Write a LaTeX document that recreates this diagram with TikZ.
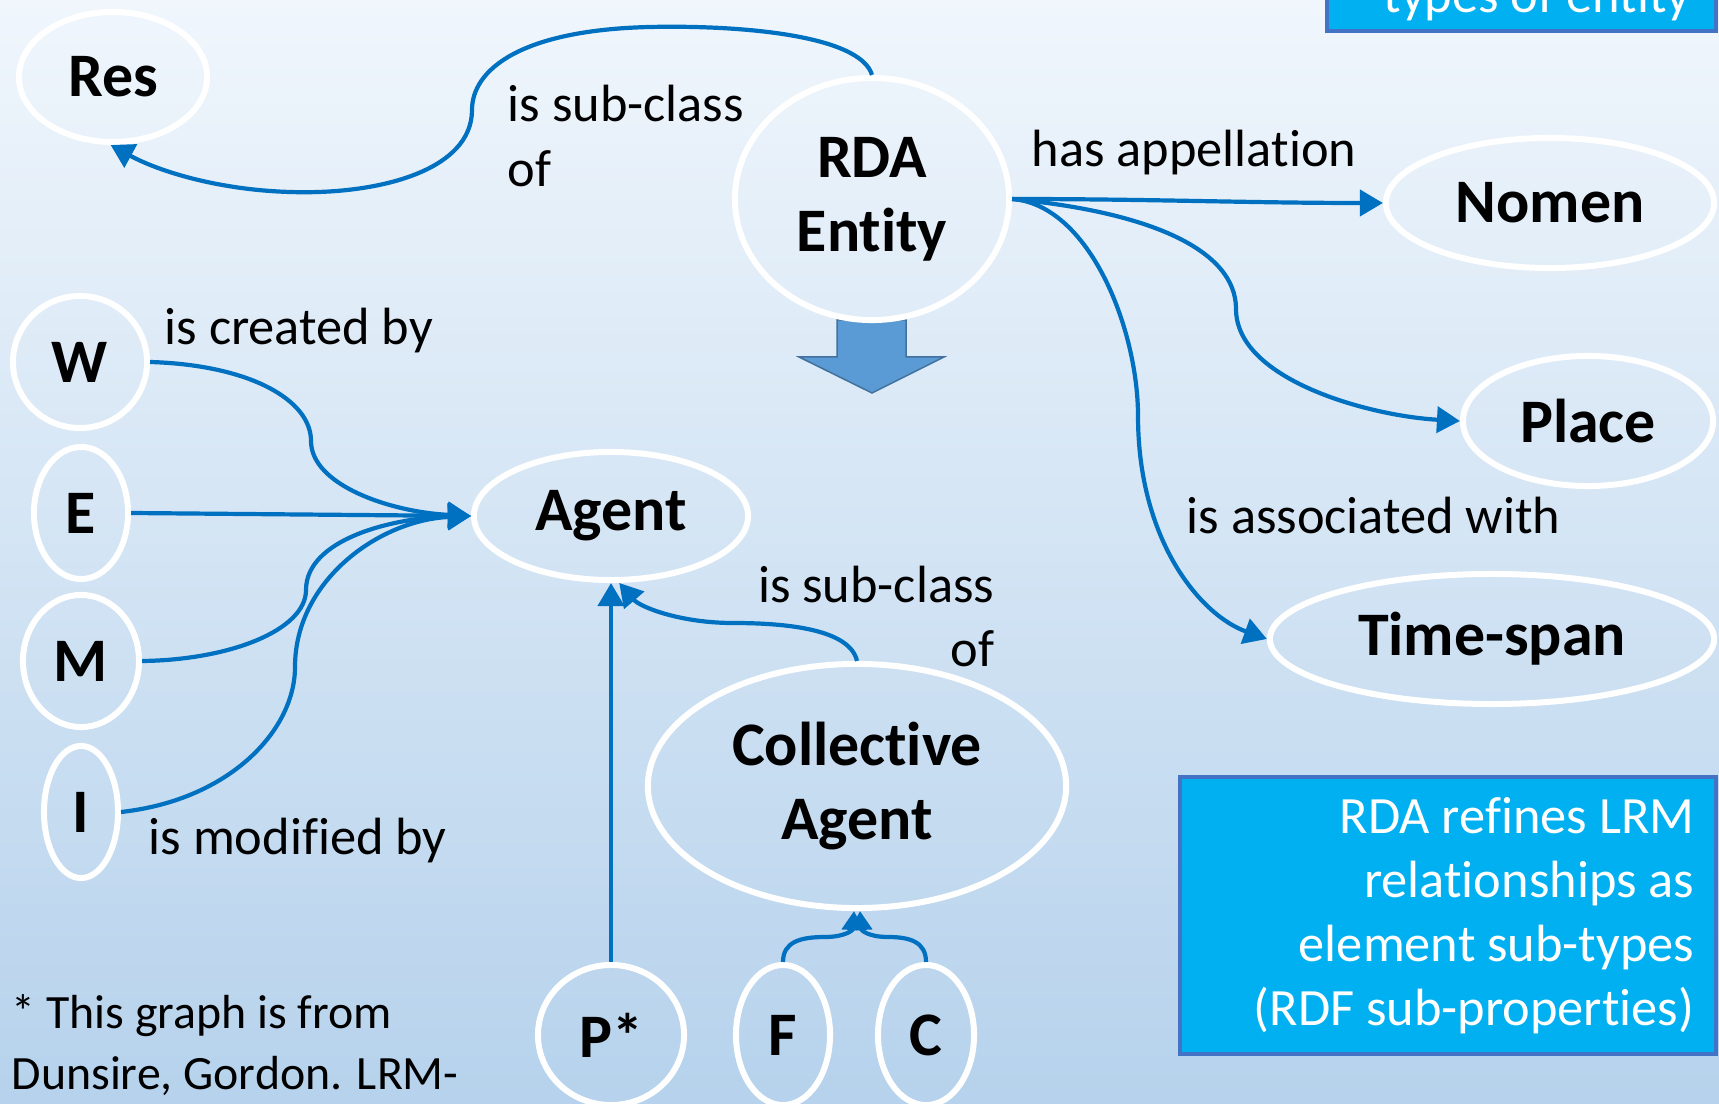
\documentclass[tikz,border=0pt]{standalone}
\usepackage{fontspec}
\setmainfont{Carlito}[Ligatures=NoCommon]
\usetikzlibrary{shapes.geometric,arrows.meta}
\definecolor{linkblue}{HTML}{0070C0}
\definecolor{boxcyan}{HTML}{00B0F0}
\definecolor{boxedge}{HTML}{4472C4}
\definecolor{bigarrow}{HTML}{5B9BD5}
\definecolor{bigarrowedge}{HTML}{41719C}
\definecolor{bgtop}{RGB}{240,246,252}
\definecolor{bgbottom}{RGB}{182,210,236}

\begin{document}
\begin{tikzpicture}
[
    x=0.01cm, y=-0.01cm,
    entity/.style={ellipse,draw=white,line width=0.06cm,inner sep=0pt,align=center,font=\fontsize{17.6}{21}\selectfont\bfseries},
    rel/.style={inner sep=0pt,font=\fontsize{14.9}{18.2}\selectfont},
    link/.style={draw=linkblue,line width=0.042cm,-{Triangle[length=0.23cm,width=0.26cm]}},
    smalllink/.style={link,-{Triangle[length=0.19cm,width=0.22cm]}},
    notebox/.style={fill=boxcyan,draw=boxedge,line width=0.04cm},
]
\useasboundingbox (0,0) rectangle (1719,1104);
\clip (0,0) rectangle (1719,1104);
\fill[top color=bgtop,bottom color=bgbottom] (0,0) rectangle (1719,1104);

\draw[fill=bigarrow,draw=bigarrowedge,line width=0.015cm] (837,320) -- (906,320) -- (906,357) -- (944,357) -- (872,393) -- (799,357) -- (837,357) -- cycle;

\node (res) at (113,77) [entity,minimum width=1.88cm,minimum height=1.3cm] {Res};
\node (rda) at (872,199) [entity,minimum width=2.74cm,minimum height=2.42cm] {RDA\\Entity};
\node (nomen) at (1550,203) [entity,minimum width=3.28cm,minimum height=1.3cm] {Nomen};
\node (place) at (1588,421) [entity,minimum width=2.5cm,minimum height=1.3cm] {Place};
\node (timespan) at (1492,639) [entity,minimum width=4.44cm,minimum height=1.3cm] {Time-span};
\node (agent) at (611,516) [entity,minimum width=2.74cm,minimum height=1.28cm] {Agent};
\node (w) at (80,362) [entity,minimum width=1.34cm,minimum height=1.32cm] {W};
\node (e) at (81,513) [entity,minimum width=0.94cm,minimum height=1.32cm] {E};
\node (m) at (81,661) [entity,minimum width=1.16cm,minimum height=1.32cm] {M};
\node (i) at (81,812) [entity,minimum width=0.74cm,minimum height=1.32cm] {I};
\node (collective) at (857,786) [entity,minimum width=4.18cm,minimum height=2.44cm] {Collective\\Agent};
\node (pstar) at (611,1035) [entity,minimum width=1.46cm,minimum height=1.4cm] {P*};
\node (f) at (783,1035) [entity,minimum width=0.94cm,minimum height=1.4cm] {F};
\node (c) at (926,1035) [entity,minimum width=0.96cm,minimum height=1.4cm] {C};

\node (subres) at (507,136) [rel,anchor=west,align=left] {is sub-class\\of};
\node (hasapp) at (1031,153) [rel,anchor=west] {has appellation};
\node (assoc) at (1186,516) [rel,anchor=west] {is associated with};
\node (created) at (164,331) [rel,anchor=west] {is created by};
\node (modified) at (148,841) [rel,anchor=west] {is modified by};
\node (subagent) at (995,616) [rel,anchor=east,align=right] {is sub-class\\of};
\node (source) at (11,1045) [rel,anchor=west,align=left,font=\fontsize{13.6}{17.2}\selectfont] {* This graph is from\\Dunsire, Gordon. LRM-};

\draw[notebox] (1180,777) rectangle (1716,1054);
\node (refines) at (1695,916) [rel,anchor=east,align=right,text=white] {RDA refines LRM\\relationships as\\element sub-types\\(RDF sub-properties)};
\draw[notebox] (1327,-30) rectangle (1716,31);
\node (types) at (1691,13) [rel,anchor=base east,text=white] {types of entity};

\draw[link] (rda.north) .. controls (860,35) and (740,25) .. (650,27) .. controls (520,30) and (472,70) .. (472,110) .. controls (472,170) and (380,195) .. (290,192) .. controls (220,190) and (160,172) .. (res.-92);
\draw[link] (rda.east) .. controls (1150,199) and (1250,203) .. (nomen.west);
\draw[link] (rda.east) .. controls (1150,212) and (1236,250) .. (1236,309) .. controls (1236,380) and (1370,416) .. (place.west);
\draw[link] (rda.east) .. controls (1090,205) and (1138,330) .. (1138,416) .. controls (1138,540) and (1200,615) .. (timespan.west);

\draw[link] (w.east) .. controls (250,365) and (311,400) .. (311,441) .. controls (311,485) and (390,512) .. (agent.west);
\draw[link] (e.east) -- (agent.west);
\draw[link] (m.east) .. controls (230,660) and (306,630) .. (306,590) .. controls (306,540) and (390,518) .. (agent.west);
\draw[link] (i.east) .. controls (230,800) and (295,730) .. (295,667) .. controls (295,580) and (380,520) .. (agent.west);

\draw[link] (collective.north) .. controls (850,630) and (790,623) .. (733,623) .. controls (680,623) and (640,607) .. (agent.-83);
\draw[link] (pstar.north) -- (agent.south);
\draw[smalllink] (f.north) .. controls (783,942) and (800,937) .. (825,937) .. controls (845,937) and (853,930) .. ([xshift=-0.03cm]collective.south);
\draw[smalllink] (c.north) .. controls (926,942) and (910,937) .. (888,937) .. controls (868,937) and (861,930) .. ([xshift=0.03cm]collective.south);
\end{tikzpicture}
\end{document}
